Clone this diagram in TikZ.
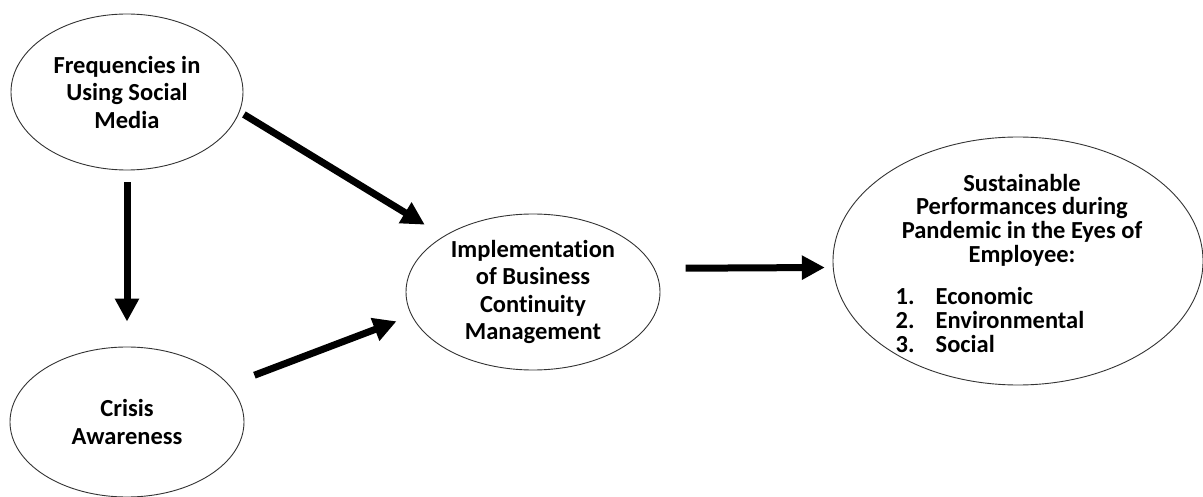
\documentclass[tikz,border=0pt]{standalone}
\usepackage{fontspec}
\setmainfont{Carlito}[Ligatures=NoCommon]
\usetikzlibrary{shapes.geometric,arrows.meta}

\begin{document}
\begin{tikzpicture}[x=1pt,y=-1pt,
    factor/.style={ellipse, draw=black!80, line width=0.9pt, inner sep=0pt,
      align=center, font=\bfseries\fontsize{24.5}{27.5}\selectfont},
    link/.style={line width=7pt, -{Triangle[length=23pt,width=23pt]}}]
  \useasboundingbox (0,0) rectangle (1203,497);

  % variables
  \node[factor, minimum width=232pt, minimum height=156pt] (freq) at (127,92)
    {Frequencies in\\Using Social\\Media};
  \node[factor, minimum width=234pt, minimum height=150pt] (crisis) at (127,422)
    {Crisis\\Awareness};
  \node[factor, minimum width=254pt, minimum height=156pt] (impl) at (533,292)
    {Implementation\\of Business\\Continuity\\Management};
  \node[factor, minimum width=370pt, minimum height=248pt] (sust) at (1018,261) {};
  \node[align=center, inner sep=0pt, font=\bfseries\fontsize{24.5}{23.8}\selectfont]
    (sustxt) at (1022,267)
    {Sustainable\\Performances during\\Pandemic in the Eyes of\\Employee:\\[18pt]
     \begin{tabular}[t]{@{}l@{\hspace{21pt}}l@{}}1.&Economic\\2.&Environmental\\3.&Social\end{tabular}\hspace*{64pt}};

  % paths
  \draw[link, shorten <=12pt, shorten >=25pt] (freq.south) -- (crisis.north);
  \draw[link, shorten <=5pt, shorten >=22pt] (freq.-10) -- (impl.148);
  \draw[link, shorten <=27pt, shorten >=16pt] (crisis.20) -- (impl.-169);
  \draw[link, shorten <=31pt, shorten >=8pt] (impl.11) -- (sust.-178);
\end{tikzpicture}
\end{document}
